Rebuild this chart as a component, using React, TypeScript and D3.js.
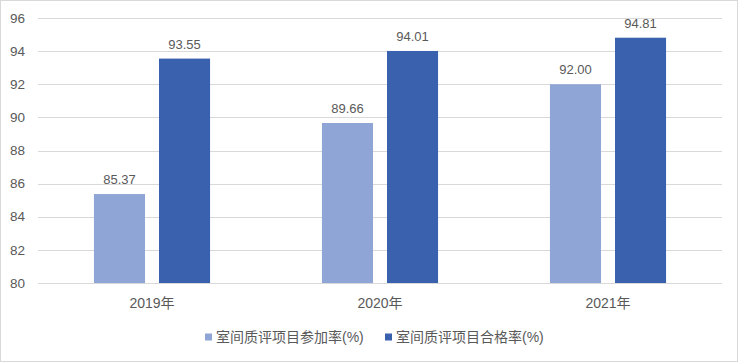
import React, { useEffect, useRef } from 'react';
import * as d3 from 'd3';

const categories = ['2019年', '2020年', '2021年'];
const seriesNames = ['室间质评项目参加率(%)', '室间质评项目合格率(%)'];
const participation = [85.37, 89.66, 92.0];
const passRate = [93.55, 94.01, 94.81];
const yTicks = [80, 82, 84, 86, 88, 90, 92, 94, 96];

const colors = ['#8FA5D6', '#3A61AD'];
const textColor = '#595959';
const font = "'Liberation Sans', 'Noto Sans CJK SC', sans-serif";

const App: React.FC = () => {
  const ref = useRef<SVGSVGElement | null>(null);

  useEffect(() => {
    if (!ref.current) return;
    const width = 739;
    const height = 362;
    const margin = { top: 18, right: 17, bottom: 79, left: 38 };

    const svg = d3.select(ref.current).attr('width', width).attr('height', height);
    svg.selectAll('*').remove();

    // light frame round the chart area
    svg.append('rect')
      .attr('x', 0.5).attr('y', 0.5)
      .attr('width', width - 2).attr('height', height - 1)
      .attr('fill', '#fff')
      .attr('stroke', '#d9d9d9');

    const x = d3.scaleBand<string>()
      .domain(categories)
      .range([margin.left, width - margin.right])
      .padding(0);

    const xInner = d3.scaleBand<string>()
      .domain(seriesNames)
      .range([0, x.bandwidth()])
      .paddingInner(0.215)
      .paddingOuter(0.86);

    const y = d3.scaleLinear()
      .domain([80, 96])
      .range([height - margin.bottom, margin.top]);

    // gridlines
    svg.append('g')
      .selectAll('line')
      .data(yTicks)
      .enter()
      .append('line')
      .attr('x1', margin.left)
      .attr('x2', width - margin.right)
      .attr('y1', d => Math.round(y(d)) + 0.5)
      .attr('y2', d => Math.round(y(d)) + 0.5)
      .attr('stroke', '#d9d9d9')
      .attr('stroke-width', 1);

    // y tick labels
    svg.append('g')
      .selectAll('text')
      .data(yTicks)
      .enter()
      .append('text')
      .attr('x', 25)
      .attr('y', d => y(d))
      .attr('dy', '0.35em')
      .attr('text-anchor', 'end')
      .attr('fill', textColor)
      .style('font-family', font)
      .style('font-size', '13.5px')
      .text(d => d);

    const series = [participation, passRate];

    series.forEach((values, si) => {
      const g = svg.append('g');
      g.selectAll('rect')
        .data(values)
        .enter()
        .append('rect')
        .attr('x', (d, i) => (x(categories[i]) as number) + (xInner(seriesNames[si]) as number))
        .attr('y', d => y(d))
        .attr('width', xInner.bandwidth())
        .attr('height', d => y(80) - y(d))
        .attr('fill', colors[si]);

      g.selectAll('text')
        .data(values)
        .enter()
        .append('text')
        .attr('x', (d, i) => (x(categories[i]) as number) + (xInner(seriesNames[si]) as number) + xInner.bandwidth() / 2)
        .attr('y', d => y(d) - 10)
        .attr('text-anchor', 'middle')
        .attr('fill', textColor)
        .style('font-family', font)
        .style('font-size', '13px')
        .text(d => d.toFixed(2));
    });

    // category labels
    svg.append('g')
      .selectAll('text')
      .data(categories)
      .enter()
      .append('text')
      .attr('x', d => (x(d) as number) + x.bandwidth() / 2)
      .attr('y', y(80) + 25)
      .attr('text-anchor', 'middle')
      .attr('fill', textColor)
      .style('font-family', font)
      .style('font-size', '14px')
      .text(d => d);

    // legend
    const legendX = [205, 385];
    const legend = svg.append('g').attr('transform', `translate(0, 337)`);
    seriesNames.forEach((name, i) => {
      const row = legend.append('g').attr('transform', `translate(${legendX[i]}, 0)`);
      row.append('rect')
        .attr('x', 0).attr('y', -3.5)
        .attr('width', 7).attr('height', 7)
        .attr('fill', colors[i]);
      row.append('text')
        .attr('x', 11)
        .attr('y', 0)
        .attr('dy', '0.35em')
        .attr('fill', textColor)
        .style('font-family', font)
        .style('font-size', '14px')
        .text(name);
    });
  }, []);

  return (
    <div style={{ position: 'absolute', left: 0, top: 0 }}>
      <svg ref={ref} style={{ display: 'block' }}></svg>
    </div>
  );
};

export default App;
